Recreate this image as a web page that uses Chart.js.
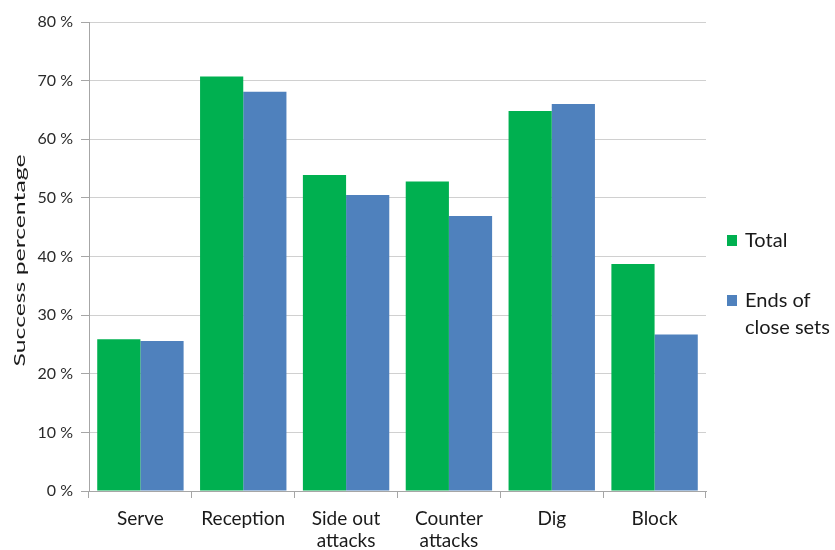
<!DOCTYPE html>
<html>
<head>
<meta charset="utf-8">
<script src="https://cdn.jsdelivr.net/npm/chart.js@4.4.1/dist/chart.umd.min.js"></script>
<style>
  html, body { margin: 0; padding: 0; background: #ffffff; }
  #wrap { position: relative; width: 835px; height: 550px; }
  #legend { position: absolute; left: 727px; top: 226px; font-family: Lato, "Open Sans", sans-serif; font-size: 20px; color: #1a1a1a; }
  .item { position: relative; padding-left: 18px; line-height: 27px; margin-bottom: 33px; white-space: nowrap; }
  .sw { position: absolute; left: 0; top: 9px; width: 10px; height: 11px; }
</style>
</head>
<body>
<div id="wrap">
  <canvas id="c" width="835" height="550"></canvas>
  <div id="legend"></div>
</div>
<script>
// Success percentage by skill, all rallies vs. ends of close sets
const categories = ["Serve", "Reception", ["Side out", "attacks"], ["Counter", "attacks"], "Dig", "Block"];
const totalValues = [25.9, 70.7, 53.9, 52.8, 64.8, 38.7];
const closeSetValues = [25.6, 68.1, 50.5, 46.9, 66.0, 26.7];
const seriesNames = ["Total", ["Ends of", "close sets"]];
const seriesColors = ["#00b050", "#4f81bd"];
const yTicks = [0, 10, 20, 30, 40, 50, 60, 70, 80];
const yTitle = "Success percentage";

const FONT = "Lato, 'Open Sans', sans-serif";

// Vertical axis title, drawn with a wide tracking along its length
const axisTitle = {
  id: "axisTitle",
  afterDraw(chart) {
    const { ctx, chartArea } = chart;
    ctx.save();
    ctx.translate(19.5, (chartArea.top + chartArea.bottom) / 2 + 4);
    ctx.rotate(-Math.PI / 2);
    ctx.font = "16px " + FONT;
    ctx.fillStyle = "#1a1a1a";
    ctx.textAlign = "center";
    ctx.textBaseline = "middle";
    const w = ctx.measureText(yTitle).width;
    ctx.scale(212 / w, 1);
    ctx.fillText(yTitle, 0, 0);
    ctx.restore();
  }
};

new Chart(document.getElementById("c"), {
  type: "bar",
  data: {
    labels: categories,
    datasets: [
      { label: "Total", data: totalValues, backgroundColor: seriesColors[0] },
      { label: "Ends of close sets", data: closeSetValues, backgroundColor: seriesColors[1] }
    ]
  },
  plugins: [axisTitle],
  options: {
    responsive: false,
    animation: false,
    categoryPercentage: 0.84,
    barPercentage: 1.0,
    layout: { padding: { top: 22, right: 129, left: 0, bottom: 0 } },
    plugins: { legend: { display: false }, tooltip: { enabled: false } },
    scales: {
      x: {
        grid: { offset: true, drawOnChartArea: false, drawTicks: true, tickLength: 7, color: "#a6a6a6" },
        border: { color: "#a6a6a6" },
        ticks: { color: "#1a1a1a", font: { family: FONT, size: 19, lineHeight: 1.2 }, padding: 9, maxRotation: 0, autoSkip: false },
        afterFit: s => { s.height = 59; }
      },
      y: {
        min: 0, max: 80,
        afterBuildTicks: s => { s.ticks = yTicks.map(v => ({ value: v })); },
        grid: { color: "#d0d0d0", tickColor: "#a6a6a6", tickLength: 8 },
        border: { color: "#a6a6a6" },
        ticks: { color: "#2a2a2a", font: { family: FONT, size: 16 }, padding: 8, callback: v => v + " %" },
        afterFit: s => { s.width = 89; }
      }
    }
  }
});

// Legend drawn as HTML so the second entry can wrap onto two lines
const legend = document.getElementById("legend");
seriesNames.forEach((name, i) => {
  const item = document.createElement("div");
  item.className = "item";
  const sw = document.createElement("span");
  sw.className = "sw";
  sw.style.background = seriesColors[i];
  item.appendChild(sw);
  const lines = Array.isArray(name) ? name : [name];
  lines.forEach((ln, j) => {
    if (j) item.appendChild(document.createElement("br"));
    item.appendChild(document.createTextNode(ln));
  });
  legend.appendChild(item);
});
</script>
</body>
</html>
